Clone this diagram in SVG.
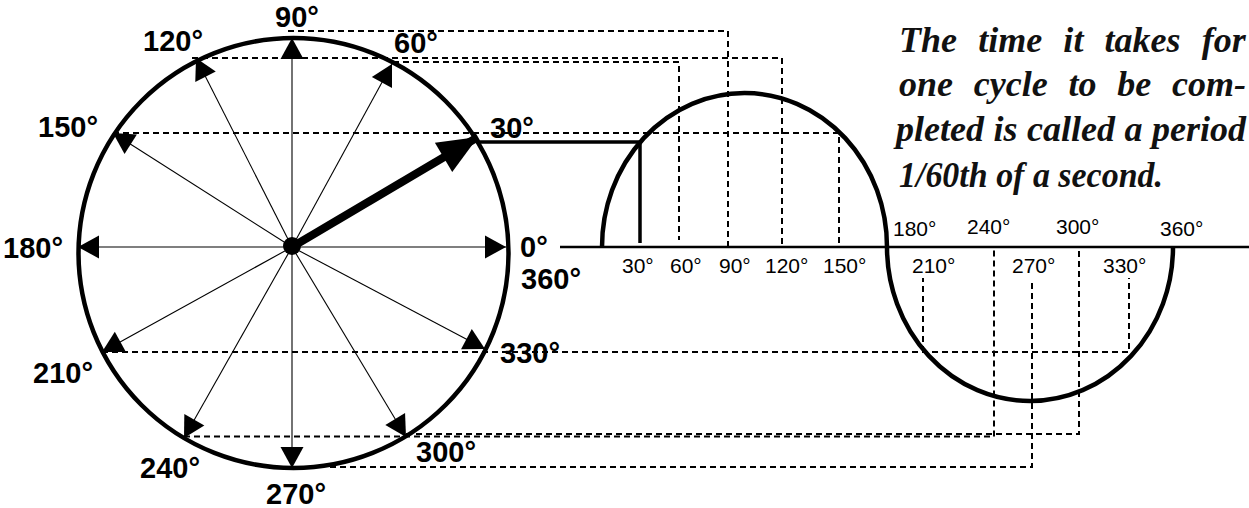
<svg xmlns="http://www.w3.org/2000/svg" width="1249" height="508" viewBox="0 0 1249 508">
<style>
.thick{fill:none;stroke:#000;stroke-width:4.5}
.spoke{fill:none;stroke:#000;stroke-width:1.1}
.dash{fill:none;stroke:#000;stroke-width:2;stroke-dasharray:6 4}
.solid{fill:none;stroke:#000;stroke-width:3.5}
.axis{fill:none;stroke:#000;stroke-width:2.5}
.big{font-family:"Liberation Sans",Arial,Helvetica,sans-serif;font-weight:bold;font-size:29px;fill:#000}
.small{font-family:"Liberation Sans",Arial,Helvetica,sans-serif;font-size:21px;fill:#000}
.note{font-family:"Liberation Serif","Times New Roman",serif;font-weight:bold;font-style:italic;font-size:36px;fill:#111}
</style>
<defs>
<marker id="ah" markerUnits="userSpaceOnUse" viewBox="-1 -13 24 26" refX="21" refY="0" markerWidth="24" markerHeight="26" orient="auto">
<path d="M0,-11.5 L21,0 L0,11.5 z" fill="#000"/>
</marker>
<marker id="ahBig" markerUnits="userSpaceOnUse" viewBox="-1 -19 43 38" refX="40" refY="0" markerWidth="43" markerHeight="38" orient="auto">
<path d="M0,-17 L40,0 L0,17 z" fill="#000"/>
</marker>
</defs>
<rect width="1249" height="508" fill="#fff"/>

<g id="connectors">
<path class="dash" d="M288,31 H728 V247"/>
<path class="dash" d="M192,58 H782 V247"/>
<path class="dash" d="M393,62 H679 V240"/>
<path class="dash" d="M113,133 H839 V247"/>
<path class="dash" d="M102,352 H1129 V278"/>
<path class="dash" d="M923,352 V278"/>
<path class="dash" d="M184,436.5 H994 V249"/>
<path class="dash" d="M406,434 H1079 V249"/>
<path class="dash" d="M330,467 H1032 V282"/>
<path class="solid" d="M478,142 H640 V243"/>
</g>

<g id="circle">
<circle class="thick" cx="293.5" cy="253" r="215"/>
</g>

<g id="spokes">
<line class="spoke" x1="292" y1="247" x2="506" y2="247" marker-end="url(#ah)"/>
<line class="spoke" x1="292" y1="247" x2="392" y2="64" marker-end="url(#ah)"/>
<line class="spoke" x1="292" y1="247" x2="292" y2="38" marker-end="url(#ah)"/>
<line class="spoke" x1="292" y1="247" x2="196" y2="58" marker-end="url(#ah)"/>
<line class="spoke" x1="292" y1="247" x2="113" y2="133" marker-end="url(#ah)"/>
<line class="spoke" x1="292" y1="247" x2="78" y2="247" marker-end="url(#ah)"/>
<line class="spoke" x1="292" y1="247" x2="102" y2="352" marker-end="url(#ah)"/>
<line class="spoke" x1="292" y1="247" x2="184" y2="438" marker-end="url(#ah)"/>
<line class="spoke" x1="292" y1="247" x2="292" y2="468" marker-end="url(#ah)"/>
<line class="spoke" x1="292" y1="247" x2="406" y2="437" marker-end="url(#ah)"/>
<line class="spoke" x1="292" y1="247" x2="485" y2="349" marker-end="url(#ah)"/>
<line x1="292" y1="247" x2="478" y2="137" stroke="#000" stroke-width="8" marker-end="url(#ahBig)"/>
<circle cx="292" cy="246" r="9" fill="#000"/>
</g>

<g id="wave">
<line class="axis" x1="560" y1="247" x2="1249" y2="247"/>
<path class="thick" d="M602,247 A142.5,154 0 0 1 887,247 A143,154 0 0 0 1173,247"/>
</g>

<g id="circle-labels">
<text class="big" x="275" y="27">90°</text>
<text class="big" x="143" y="51">120°</text>
<text class="big" x="394" y="53">60°</text>
<text class="big" x="38" y="137">150°</text>
<text class="big" x="490" y="138">30°</text>
<text class="big" x="3" y="258">180°</text>
<text class="big" x="520" y="257">0°</text>
<text class="big" x="521" y="289">360°</text>
<text class="big" x="500" y="363">330°</text>
<text class="big" x="33" y="383">210°</text>
<text class="big" x="140" y="478">240°</text>
<text class="big" x="416" y="462">300°</text>
<text class="big" x="266" y="504">270°</text>
</g>

<g id="wave-labels">
<text class="small" x="622" y="273">30°</text>
<text class="small" x="670" y="273">60°</text>
<text class="small" x="719" y="273">90°</text>
<text class="small" x="765" y="273">120°</text>
<text class="small" x="823" y="273">150°</text>
<text class="small" x="912" y="273">210°</text>
<text class="small" x="1012" y="273">270°</text>
<text class="small" x="1103" y="273">330°</text>
<text class="small" x="893" y="236">180°</text>
<text class="small" x="967" y="234">240°</text>
<text class="small" x="1056" y="234">300°</text>
<text class="small" x="1160" y="236">360°</text>
</g>

<g id="note">
<text class="note" x="899" y="52" word-spacing="12.2">The time it takes for</text>
<text class="note" x="899" y="96" word-spacing="11.8">one cycle to be com-</text>
<text class="note" x="896" y="141" word-spacing="0.5">pleted is called a period</text>
<text class="note" x="899" y="187" textLength="264" lengthAdjust="spacingAndGlyphs">1/60th of a second.</text>
</g>
</svg>
